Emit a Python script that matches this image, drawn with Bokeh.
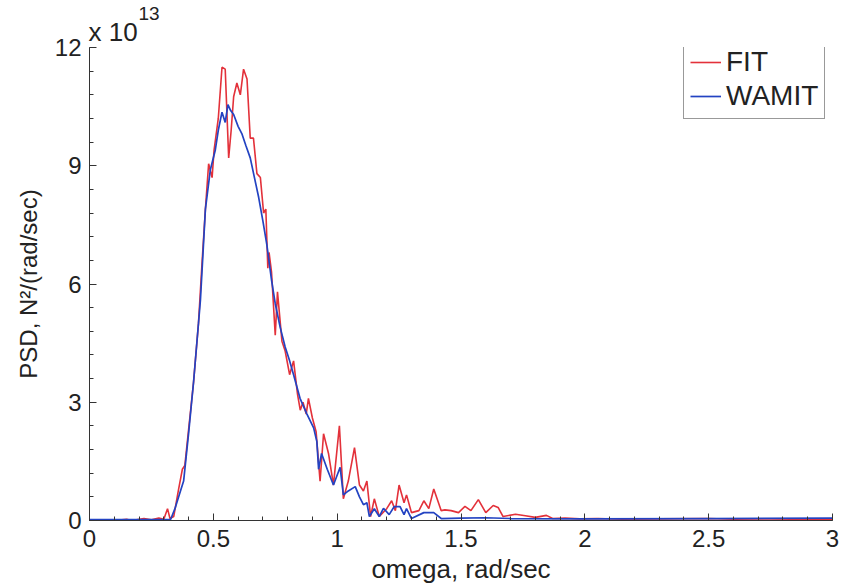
from bokeh.plotting import figure
from bokeh.models import FixedTicker, Range1d, Legend, LegendItem, Title
from bokeh.embed import file_html
from bokeh.resources import INLINE

# ---- data (PSD in units of 1e13 N^2/(rad/sec)) ----
fit_omega = [0.00, 0.10, 0.15, 0.17, 0.22, 0.25, 0.28, 0.30, 0.315, 0.325, 0.34, 0.36, 0.375, 0.385,
             0.40, 0.42, 0.44, 0.455, 0.468, 0.481, 0.495, 0.503, 0.52, 0.535, 0.548, 0.562, 0.572,
             0.582, 0.595, 0.609, 0.622, 0.636, 0.649, 0.662, 0.676, 0.69, 0.703, 0.712, 0.72, 0.725,
             0.735, 0.75, 0.759, 0.777, 0.79, 0.808, 0.824, 0.84, 0.851, 0.862, 0.875, 0.884, 0.90,
             0.915, 0.931, 0.945, 0.965, 0.985, 1.009, 1.025, 1.045, 1.07, 1.09, 1.106, 1.12, 1.135,
             1.15, 1.17, 1.20, 1.22, 1.235, 1.25, 1.27, 1.28, 1.30, 1.33, 1.35, 1.37, 1.39, 1.42,
             1.435, 1.46, 1.49, 1.516, 1.54, 1.57, 1.60, 1.63, 1.65, 1.67, 1.72, 1.76, 1.80, 1.845,
             1.87, 1.92, 1.98, 2.05, 2.15, 2.30, 2.50, 2.60, 2.75, 3.00]
fit_psd = [0.0, 0.0, 0.03, 0.0, 0.05, 0.02, 0.06, 0.03, 0.3, 0.05, 0.1, 0.8, 1.3, 1.4,
           2.3, 3.5, 5.0, 6.6, 7.9, 9.05, 8.7, 9.4, 10.2, 11.5, 11.45, 9.2, 9.9,
           10.75, 11.1, 10.8, 11.45, 11.2, 9.7, 9.7, 8.8, 8.7, 7.8, 7.9, 6.4, 6.8,
           6.3, 4.7, 5.8, 4.55, 4.3, 3.7, 4.05, 3.2, 2.8, 3.0, 2.7, 3.1, 2.6,
           2.25, 1.0, 2.2, 1.7, 0.9, 2.4, 0.55, 1.0, 1.85, 0.9, 0.75, 1.0, 0.1,
           0.55, 0.1, 0.3, 0.5, 0.25, 0.9, 0.45, 0.65, 0.2, 0.25, 0.5, 0.3, 0.8, 0.25,
           0.27, 0.25, 0.2, 0.36, 0.25, 0.53, 0.2, 0.38, 0.33, 0.1, 0.16, 0.12, 0.08, 0.13,
           0.05, 0.06, 0.04, 0.05, 0.03, 0.04, 0.05, 0.03, 0.04, 0.02]

wamit_omega = [0.00, 0.30, 0.327, 0.345, 0.36, 0.38, 0.40, 0.42, 0.448, 0.468, 0.488, 0.508, 0.52,
               0.535, 0.548, 0.559, 0.57, 0.582, 0.60, 0.616, 0.632, 0.649, 0.666, 0.683, 0.70,
               0.716, 0.735, 0.75, 0.77, 0.79, 0.808, 0.824, 0.85, 0.878, 0.905, 0.918, 0.925,
               0.937, 0.96, 0.985, 1.012, 1.025, 1.045, 1.073, 1.09, 1.106, 1.12, 1.13, 1.15,
               1.17, 1.187, 1.21, 1.23, 1.254, 1.27, 1.28, 1.30, 1.35, 1.39, 1.42, 1.50, 1.60,
               1.70, 2.00, 2.50, 3.00]
wamit_psd = [0.02, 0.02, 0.02, 0.3, 0.6, 1.0, 2.2, 3.5, 5.6, 7.9, 8.9, 9.4, 9.9,
             10.36, 10.1, 10.55, 10.4, 10.3, 10.0, 9.8, 9.5, 9.2, 8.7, 8.2, 7.6,
             7.0, 6.1, 5.5, 4.9, 4.4, 4.05, 3.7, 3.1, 2.7, 2.35, 2.0, 1.3,
             1.7, 1.3, 0.9, 1.35, 0.65, 0.75, 0.86, 0.6, 0.4, 0.45, 0.1, 0.3,
             0.1, 0.31, 0.15, 0.35, 0.35, 0.15, 0.3, 0.05, 0.2, 0.2, 0.05, 0.06, 0.07,
             0.05, 0.04, 0.05, 0.06]

x_ticks = [0, 0.5, 1, 1.5, 2, 2.5, 3]
x_tick_labels = ["0", "0.5", "1", "1.5", "2", "2.5", "3"]
y_ticks = [0, 3, 6, 9, 12]
y_tick_labels = ["0", "3", "6", "9", "12"]
series_names = ["FIT", "WAMIT"]

FONT = "Liberation Sans"

p = figure(width=843, height=588, output_backend="svg", toolbar_location=None,
           x_range=Range1d(0, 3), y_range=Range1d(0, 12), title_location=None)
p.min_border_left = 89
p.min_border_right = 11
p.min_border_top = 47
p.min_border_bottom = 68
p.outline_line_color = None
p.grid.visible = False
p.background_fill_color = "white"
p.border_fill_color = "white"

r_fit = p.line(fit_omega, fit_psd, line_color="#e3313a", line_width=1.6)
r_wamit = p.line(wamit_omega, wamit_psd, line_color="#2343c2", line_width=1.7)

x_minor = [i / 10 for i in range(0, 31)]
y_minor = [i * 0.6 for i in range(0, 21)]
p.xaxis.ticker = FixedTicker(ticks=x_ticks, minor_ticks=x_minor)
p.yaxis.ticker = FixedTicker(ticks=y_ticks, minor_ticks=y_minor)
p.xaxis.major_label_overrides = {t: l for t, l in zip(x_ticks, x_tick_labels)}
p.yaxis.major_label_overrides = {t: l for t, l in zip(y_ticks, y_tick_labels)}

for ax in (p.xaxis[0], p.yaxis[0]):
    ax.axis_line_color = "#333333"
    ax.major_tick_line_color = "#333333"
    ax.minor_tick_line_color = "#333333"
    ax.major_tick_in = 7
    ax.major_tick_out = 0
    ax.minor_tick_in = 4
    ax.minor_tick_out = 0
    ax.major_label_text_font = FONT
    ax.major_label_text_font_size = "24px"
    ax.major_label_text_color = "#222222"
    ax.axis_label_text_font = FONT
    ax.axis_label_text_font_style = "normal"
    ax.axis_label_text_color = "#222222"

p.xaxis.axis_label = "omega, rad/sec"
p.yaxis.axis_label = "PSD, N²/(rad/sec)"
p.xaxis.axis_label_text_font_size = "26px"
p.yaxis.axis_label_text_font_size = "24px"
p.xaxis.major_label_standoff = 9
p.xaxis.axis_label_standoff = 4
p.yaxis.major_label_standoff = 8
p.yaxis.axis_label_standoff = 10

# "x 10^13" exponent note above the y axis
p.add_layout(Title(text="x 10", align="left", offset=-1, standoff=2, text_font=FONT,
                   text_font_size="26px", text_font_style="normal", text_color="#222222"), "above")
p.add_layout(Title(text="13", align="left", offset=49, standoff=-13, text_font=FONT,
                   text_font_size="19px", text_font_style="normal", text_color="#222222"), "above")

legend = Legend(items=[LegendItem(label=series_names[0], renderers=[r_fit]),
                       LegendItem(label=series_names[1], renderers=[r_wamit])],
                location=(594, 401))
legend.label_text_font = FONT
legend.label_text_font_size = "28px"
legend.label_text_color = "#222222"
legend.glyph_width = 31
legend.glyph_height = 30
legend.label_height = 30
legend.label_standoff = 5
legend.padding = 6
legend.spacing = 2
legend.margin = 0
legend.border_line_color = "#333333"
legend.border_line_width = 1
legend.background_fill_alpha = 1
p.add_layout(legend)

open("out.html", "w").write(file_html(p, INLINE))
